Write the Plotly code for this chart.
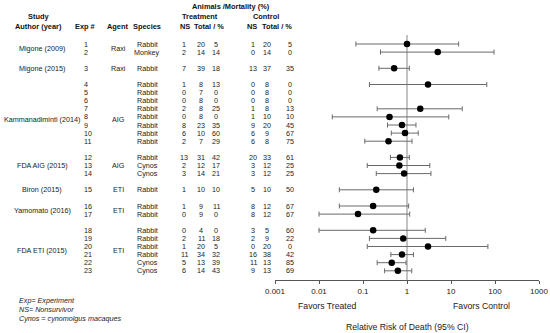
import plotly.graph_objects as go

# ---------------- data ----------------
exp_no = [1, 2, 3, 4, 5, 6, 7, 8, 9, 10, 11, 12, 13, 14, 15, 16, 17, 18, 19, 20, 21, 22, 23]
row_pos = [0, 1, 3, 5, 6, 7, 8, 9, 10, 11, 12, 14, 15, 16, 18, 20, 21, 23, 24, 25, 26, 27, 28]
species = ["Rabbit", "Monkey", "Rabbit", "Rabbit", "Rabbit", "Rabbit", "Rabbit", "Rabbit", "Rabbit",
           "Rabbit", "Rabbit", "Rabbit", "Cynos", "Cynos", "Rabbit", "Rabbit", "Rabbit", "Rabbit",
           "Rabbit", "Rabbit", "Rabbit", "Cynos", "Cynos"]
trt_ns = [1, 2, 7, 1, 0, 0, 2, 0, 8, 6, 2, 13, 2, 3, 1, 1, 0, 0, 2, 1, 11, 5, 6]
trt_total = [20, 14, 39, 8, 7, 8, 8, 8, 23, 10, 7, 31, 12, 14, 10, 9, 9, 4, 11, 20, 34, 13, 14]
trt_pct = [5, 14, 18, 13, 0, 0, 25, 0, 35, 60, 29, 42, 17, 21, 10, 11, 0, 0, 18, 5, 32, 39, 43]
ctl_ns = [1, 0, 13, 0, 0, 0, 1, 1, 9, 6, 6, 20, 3, 3, 5, 8, 8, 3, 2, 0, 16, 11, 9]
ctl_total = [20, 14, 37, 8, 8, 8, 8, 10, 20, 9, 8, 33, 12, 12, 10, 12, 12, 5, 9, 20, 38, 13, 13]
ctl_pct = [5, 0, 35, 0, 0, 0, 13, 10, 45, 67, 75, 61, 25, 25, 50, 67, 67, 60, 22, 0, 42, 85, 69]

rr = [1.0, 5.0, 0.51, 3.0, None, None, 2.0, 0.40, 0.77, 0.90, 0.38, 0.69, 0.67, 0.86, 0.20,
      0.17, 0.077, 0.17, 0.82, 3.0, 0.77, 0.45, 0.62]
rr_low = [0.069, 0.25, 0.23, 0.14, None, None, 0.21, 0.020, 0.36, 0.44, 0.11, 0.42, 0.125, 0.20,
          0.029, 0.029, 0.010, 0.010, 0.14, 0.125, 0.43, 0.21, 0.31]
rr_high = [14.9, 95, 1.13, 65, None, None, 18, 8.9, 1.6, 1.8, 1.3, 1.13, 3.3, 3.5, 1.4, 1.09,
           1.15, 2.6, 7.6, 69, 1.4, 0.95, 1.28]

studies = ["Migone (2009)", "Migone (2015)", "Kammanadiminti (2014)", "FDA AIG (2015)",
           "Biron (2015)", "Yamomato (2016)", "FDA ETI (2015)"]
study_rows = [0.5, 3, 9.3, 15, 18, 20.5, 25.5]
agents = ["Raxi", "Raxi", "AIG", "AIG", "ETI", "ETI", "ETI"]

tick_vals = [0.001, 0.01, 0.1, 1, 10, 100, 1000]
tick_text = ["0.001", "0.01", "0.1", "1", "10", "100", "1000"]

# ---------------- layout helpers ----------------
W, H = 550, 333
ROW0_PX, ROW_STEP = 44.0, 8.1
AXIS_PX = 280.0
FONT = "Liberation Sans, Arial, sans-serif"
TXT = "#222222"


def px_x(p):
    return p / W


def px_y(p):
    return 1 - p / H


y_top = (0 - ROW0_PX) / ROW_STEP
y_bot = (AXIS_PX - ROW0_PX) / ROW_STEP

# ---------------- figure ----------------
fig = go.Figure()

xs, ys, ep, em = [], [], [], []
for r, v, lo, hi in zip(row_pos, rr, rr_low, rr_high):
    if v is None:
        continue
    xs.append(v)
    ys.append(r)
    ep.append(hi - v)
    em.append(v - lo)

fig.add_trace(go.Scatter(
    x=xs, y=ys, mode="markers",
    marker=dict(color="black", size=6.5, symbol="circle"),
    error_x=dict(type="data", symmetric=False, array=ep, arrayminus=em,
                 color="#6a6a6a", thickness=1, width=2.5),
    showlegend=False, hoverinfo="skip", cliponaxis=False,
))

# reference line at RR = 1
fig.add_shape(type="line", xref="x", yref="y", x0=1, x1=1,
              y0=(35 - ROW0_PX) / ROW_STEP, y1=y_bot,
              line=dict(color="#b4b4b4", width=1.6), layer="below")

ann = []


def add_text(x_px, y, text, yref="y", size=7.2, bold=False, italic=False,
             xanchor="center", color=TXT):
    t = text
    if bold:
        t = "<b>" + t + "</b>"
    if italic:
        t = "<i>" + t + "</i>"
    ann.append(dict(x=px_x(x_px), xref="paper", y=y, yref=yref, text=t, showarrow=False,
                    xanchor=xanchor, yanchor="middle",
                    font=dict(family=FONT, size=size, color=color)))


# headers
HS = 7.4
add_text(231, px_y(6.7), "Animals /Mortality (%)", yref="paper", size=HS, bold=True, color="#111")
add_text(38, px_y(16.7), "Study", yref="paper", size=HS, bold=True, color="#111")
add_text(200, px_y(16.7), "Treatment", yref="paper", size=HS, bold=True, color="#111")
add_text(266, px_y(16.7), "Control", yref="paper", size=HS, bold=True, color="#111")
for xp, t in [(38, "Author (year)"), (85, "Exp #"), (117, "Agent"), (147, "Species"),
              (185, "NS"), (209, "Total / %"), (252, "NS"), (277, "Total / %")]:
    add_text(xp, px_y(26.7), t, yref="paper", size=HS, bold=True, color="#111")

# studies and agents
for s, r, a in zip(studies, study_rows, agents):
    add_text(42, r, s)
    add_text(118, r, a)

# per-experiment rows
for i, r in enumerate(row_pos):
    add_text(82, r, str(exp_no[i]), xanchor="left")
    add_text(147, r, species[i])
    add_text(184, r, str(trt_ns[i]))
    add_text(201, r, str(trt_total[i]))
    add_text(216, r, str(trt_pct[i]))
    add_text(253, r, str(ctl_ns[i]))
    add_text(267, r, str(ctl_total[i]))
    add_text(290, r, str(ctl_pct[i]))

# axis captions
add_text(327, px_y(306), "Favors Treated", yref="paper", size=8.7)
add_text(481, px_y(306), "Favors Control", yref="paper", size=8.7)
add_text(407, px_y(327), "Relative Risk of Death (95% CI)", yref="paper", size=8.7)

# footnotes
for yp, t in [(300.5, "Exp= Experiment"), (309, "NS= Nonsurvivor"),
              (318, "Cynos = cynomolgus macaques")]:
    add_text(17, px_y(yp), t, yref="paper", size=7.2, italic=True, xanchor="left")

fig.update_layout(
    width=W, height=H,
    margin=dict(l=0, r=0, t=0, b=0, autoexpand=False),
    paper_bgcolor="white", plot_bgcolor="white",
    annotations=ann,
    xaxis=dict(type="log", range=[-3, 3], domain=[275 / W, 539 / W], automargin=False,
               tickvals=tick_vals, ticktext=tick_text,
               showline=True, linecolor="#555555", linewidth=1,
               ticks="outside", ticklen=3, tickcolor="#555555",
               tickfont=dict(family=FONT, size=8, color=TXT),
               showgrid=False, zeroline=False, fixedrange=True),
    yaxis=dict(range=[y_bot, y_top], domain=[1 - AXIS_PX / H, 1], automargin=False,
               showticklabels=False, showgrid=False, zeroline=False,
               showline=False, ticks="", fixedrange=True),
    showlegend=False,
)

fig.write_html("out.html", config={"displayModeBar": False},
               post_script="document.body.style.margin='0px';document.body.style.padding='0px';")
